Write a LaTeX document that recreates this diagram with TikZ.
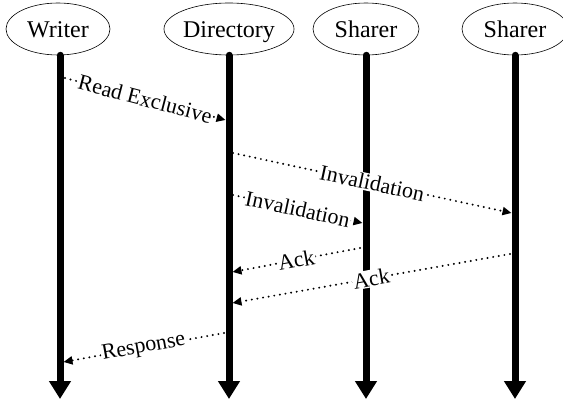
\documentclass[tikz,border=0pt]{standalone}
\usepackage{fontspec}
\setmainfont{Liberation Serif}
\usetikzlibrary{arrows.meta,shapes.geometric}
\begin{document}
\begin{tikzpicture}[x=1pt,y=-1pt,
  actor/.style={draw, ellipse, line width=0.6pt, fill=white, inner sep=0pt,
    minimum height=52pt, text height=20pt, text depth=2pt,
    font=\fontsize{24}{28}\selectfont},
  lifeline/.style={line width=7pt, line cap=round,
    -{Triangle[length=18pt,width=21pt]}},
  msg/.style={line width=2.2pt, line cap=round, dash pattern=on 0pt off 5.7pt,
    -{Triangle[length=9pt,width=8pt]}},
  msglabel/.style={sloped, fill=white, inner sep=1pt,
    font=\fontsize{22}{26}\selectfont}]
  \useasboundingbox (0,0) rectangle (563,404);

  % participants
  \node[actor, minimum width=104pt] (W)  at (58,29)  {Writer};
  \node[actor, minimum width=128pt] (D)  at (229,29) {Directory};
  \node[actor, minimum width=106pt] (S1) at (366,29) {Sharer};
  \node[actor, minimum width=106pt] (S2) at (515,29) {Sharer};

  % lifeline ends
  \coordinate (Wend)  at (60,399);
  \coordinate (Dend)  at (229,399);
  \coordinate (S1end) at (366,399);
  \coordinate (S2end) at (515,399);

  \draw[lifeline] (W.south -| Wend) -- (Wend);
  \draw[lifeline] (D.south -| Dend) -- (Dend);
  \draw[lifeline] (S1.south -| S1end) -- (S1end);
  \draw[lifeline] (S2.south -| S2end) -- (S2end);

  % message end points on the lifelines
  \coordinate (rxA)  at (65,78);   \coordinate (rxB)  at (225.5,120);
  \coordinate (inA)  at (233,153); \coordinate (inB)  at (511.5,213);
  \coordinate (isA)  at (233,195); \coordinate (isB)  at (362.5,223);
  \coordinate (akA)  at (360,248); \coordinate (akB)  at (232.5,272);
  \coordinate (alA)  at (510,254); \coordinate (alB)  at (232.5,303);
  \coordinate (rsA)  at (224,333); \coordinate (rsB)  at (63.5,362);

  % messages
  \draw[msg] (rxA) -- node[msglabel] {Read Exclusive} (rxB);
  \draw[msg] (inA) -- node[msglabel] {Invalidation} (inB);
  \draw[msg] (isA) -- node[msglabel] {Invalidation} (isB);
  \draw[msg] (akA) -- node[msglabel] {Ack} (akB);
  \draw[msg] (alA) -- node[msglabel] {Ack} (alB);
  \draw[msg] (rsA) -- node[msglabel] {Response} (rsB);
\end{tikzpicture}
\end{document}
